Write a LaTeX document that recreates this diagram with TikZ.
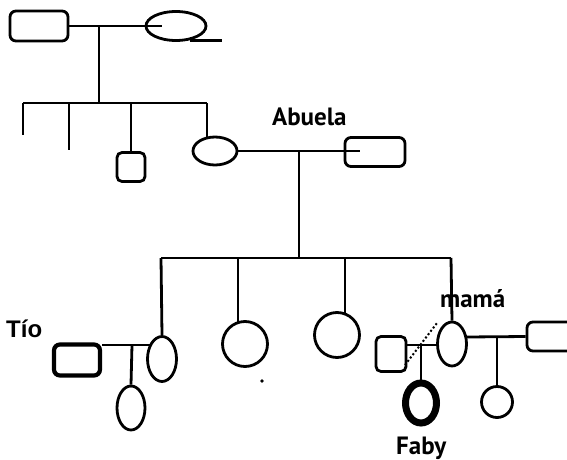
\documentclass[tikz,border=0pt]{standalone}
\usepackage{fontspec}
\setmainfont{PT Sans}
\newfontfamily\tiofont{Liberation Sans}
\usetikzlibrary{shapes.geometric}
\begin{document}
\begin{tikzpicture}[x=1pt,y=-1pt,
  ln/.style={line width=2.8pt},
  rbox/.style={draw,rectangle,rounded corners=6pt,line width=2.8pt,inner sep=0pt},
  oval/.style={draw,ellipse,line width=2.8pt,inner sep=0pt},
  circ/.style={draw,circle,line width=2.8pt,inner sep=0pt},
  lbl/.style={inner sep=0pt,anchor=base west,font=\bfseries\fontsize{25}{28}\selectfont}]
\useasboundingbox (0,0) rectangle (567,460);
\clip (0,0) rectangle (567,460);
% nodes
\node[rbox,minimum width=58pt,minimum height=30pt] (gf) at (39,26) {};
\node[oval,minimum width=60pt,minimum height=29pt] (gm) at (176,26) {};
\node[rbox,rounded corners=5pt,minimum width=28pt,minimum height=29pt] (u1) at (131,167) {};
\node[oval,minimum width=44pt,minimum height=28pt] (ab) at (215,151) {};
\node[rbox,minimum width=60pt,minimum height=29pt] (abh) at (375,152) {};
\node[oval,minimum width=29pt,minimum height=45pt] (tia) at (162,359) {};
\node[rbox,line width=4.2pt,rounded corners=6pt,minimum width=46pt,minimum height=31pt] (tio) at (77,360) {};
\node[oval,minimum width=28pt,minimum height=44pt] (tc) at (131,408) {};
\node[circ,minimum size=45pt] (k1) at (245,344) {};
\node[circ,minimum size=45pt] (k2) at (337,335) {};
\node[oval,minimum width=29pt,minimum height=44pt] (mama) at (452,344) {};
\node[rbox,rounded corners=5pt,minimum width=30pt,minimum height=35pt] (pa) at (391,354) {};
\node[oval,line width=7pt,minimum width=31pt,minimum height=40pt] (faby) at (421,403) {};
\node[rbox,minimum width=60pt,minimum height=29pt] (sp) at (557,336.5) {};
\node[circ,minimum size=31pt] (sib) at (497,402) {};
% labels
\node[lbl] (tAb) at (272,125) {Abuela};
\node[lbl] (tMa) at (440,307) {mamá};
\node[lbl] (tFa) at (396,454) {Faby};
\node[lbl,font=\tiofont\bfseries\fontsize{24}{28}\selectfont] (tTi) at (6,337) {Tío};
% coordinates
\coordinate (g1) at (162,26);
\coordinate (g2) at (99,26);
\coordinate (g3) at (99,103);
\coordinate (tl1) at (190,40.5);
\coordinate (tl2) at (222,40.5);
\coordinate (b1) at (23,103);
\coordinate (b2) at (207,103);
\coordinate (b2b) at (207,137.5);
\coordinate (d1) at (23,135);
\coordinate (e2) at (69,103);
\coordinate (d2) at (69,150);
\coordinate (e3) at (131,103);
\coordinate (a1) at (360,151);
\coordinate (a2) at (299,151);
\coordinate (a3) at (299,258);
\coordinate (c1) at (161,258);
\coordinate (c2) at (451,258);
\coordinate (f1) at (238,258);
\coordinate (f1b) at (238,322);
\coordinate (f2) at (345,258);
\coordinate (f2b) at (345,313);
\coordinate (t1) at (102,345);
\coordinate (t2) at (151,345);
\coordinate (t3) at (132,345);
\coordinate (p1) at (406,345);
\coordinate (p2) at (437,345);
\coordinate (p3) at (421,345);
\coordinate (q1) at (405,365);
\coordinate (q2) at (437,323);
\coordinate (m1) at (467,337);
\coordinate (m2) at (497,337);
% connectors
\draw[ln] (gf.east) -- (g1);
\draw[ln] (tl1) -- (tl2);
\draw[ln] (g2) -- (g3);
\draw[ln] (b1) -- (b2);
\draw[ln] (b1) -- (d1);
\draw[ln] (e2) -- (d2);
\draw[ln] (e3) -- (u1.north);
\draw[ln] (b2) -- (b2b);
\draw[ln] (ab.east) -- (a1);
\draw[ln] (a2) -- (a3);
\draw[ln] (c1) -- (c2);
\draw[ln] (c1) -- (tia.north);
\draw[ln] (f1) -- (f1b);
\draw[ln] (f2) -- (f2b);
\draw[ln] (c2) -- (mama.north);
\draw[ln] (t1) -- (t2);
\draw[ln] (t3) -- (tc.north);
\draw[ln] (p1) -- (p2);
\draw[ln] (p3) -- (faby.north);
\draw[line width=2pt,dash pattern=on 2pt off 2.2pt] (q1) -- (q2);
\draw[ln] (m1) -- (sp.west);
\draw[ln] (m2) -- (sib.north);
\fill (262,381) circle (1.8pt);
\end{tikzpicture}
\end{document}
